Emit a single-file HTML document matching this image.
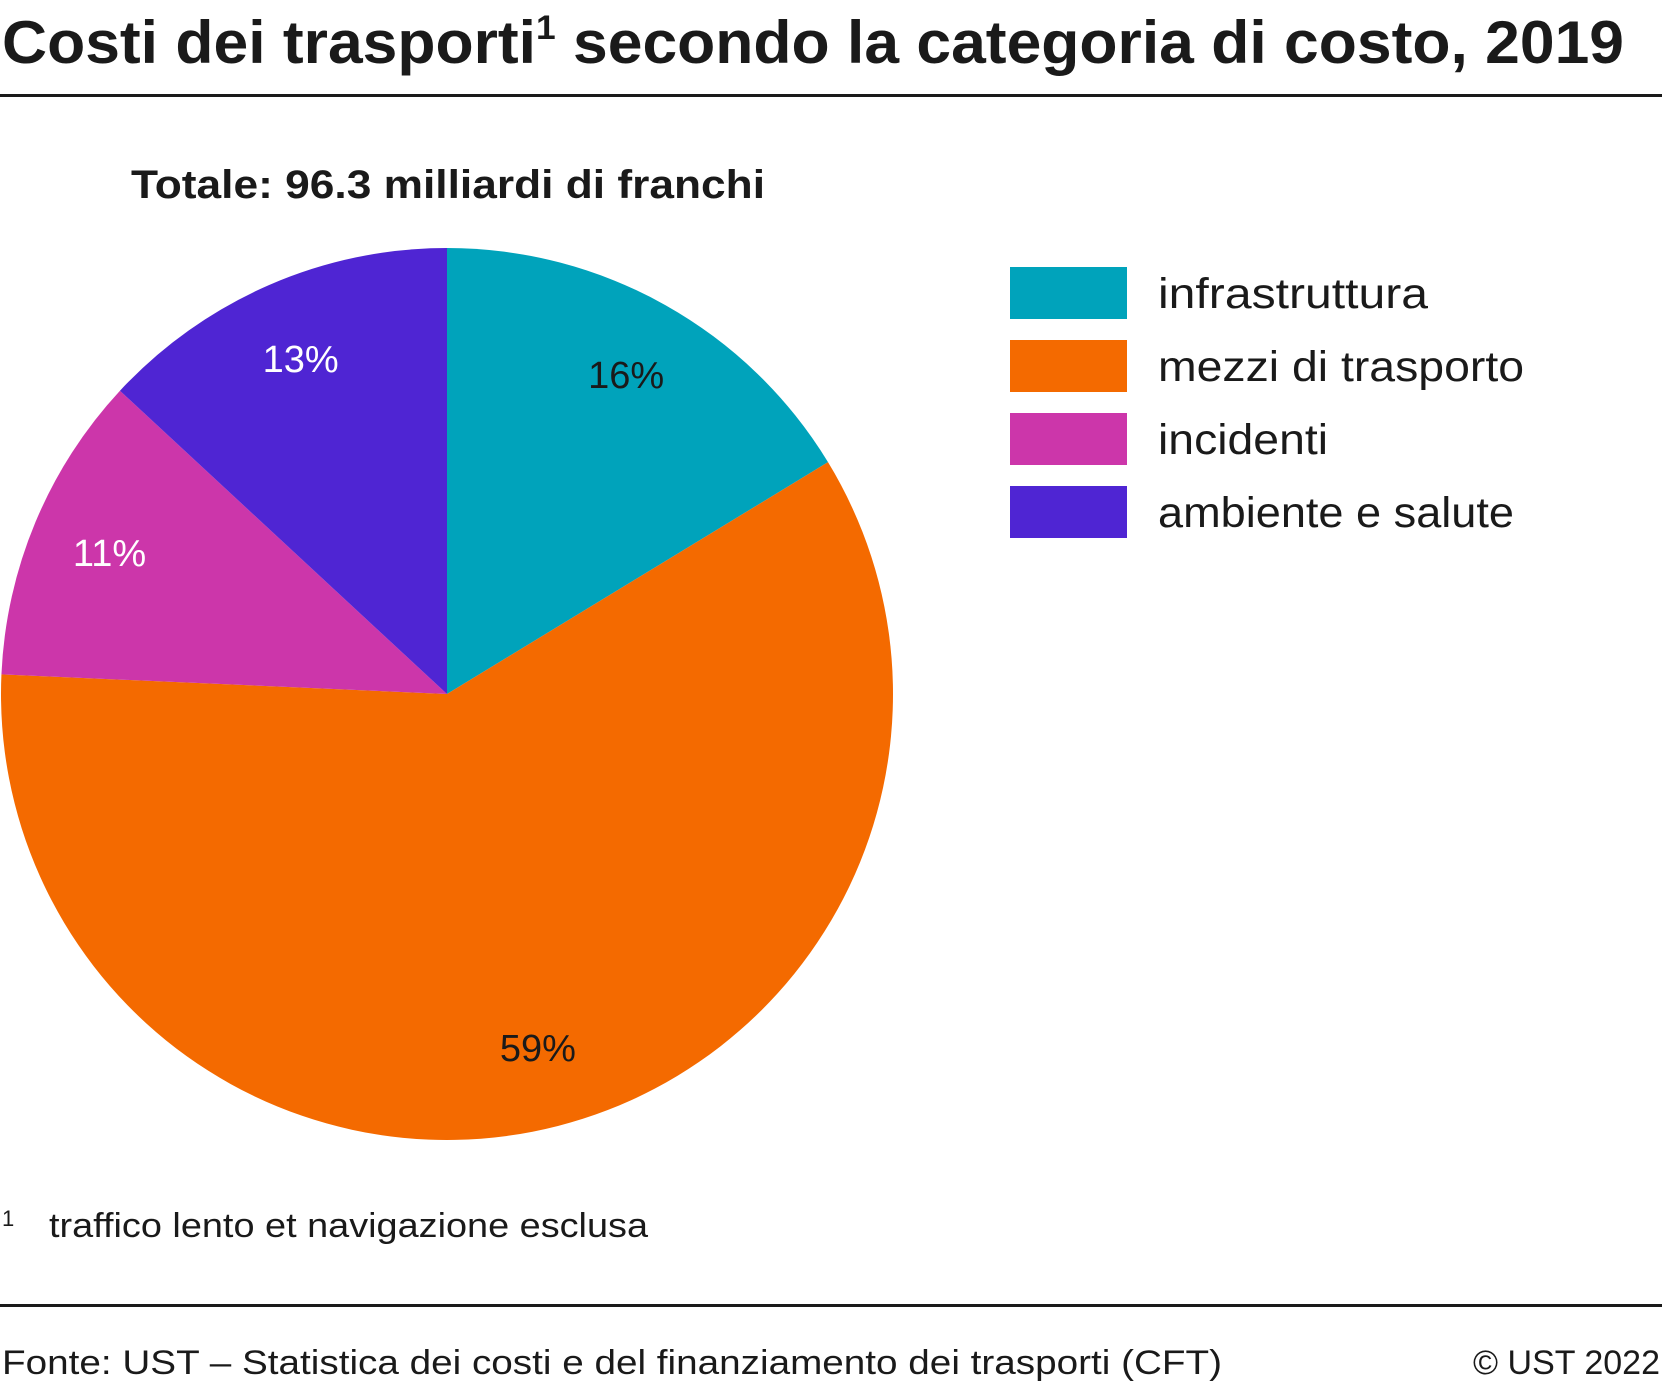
<!DOCTYPE html>
<html><head><meta charset="utf-8"><style>
body{margin:0;background:#fff;width:1662px;height:1385px;overflow:hidden}
svg{display:block;font-family:"Liberation Sans",sans-serif}
</style></head><body>
<svg width="1662" height="1385" viewBox="0 0 1662 1385">
<text x="2" y="63" font-size="60" font-weight="bold" fill="#1a1a1a" textLength="1622" lengthAdjust="spacingAndGlyphs">Costi dei trasporti<tspan font-size="34" dy="-24">1</tspan><tspan dy="24"> secondo la categoria di costo, 2019</tspan></text>
<rect x="0" y="94" width="1662" height="3" fill="#1a1a1a"/>
<text x="131" y="198" font-size="40" font-weight="bold" fill="#1a1a1a" textLength="634" lengthAdjust="spacingAndGlyphs">Totale: 96.3 milliardi di franchi</text>
<g id="pie"></g>
<g id="legend"></g>
<text x="2" y="1226" font-size="22" fill="#1a1a1a">1</text>
<text x="49" y="1237" font-size="34" fill="#1a1a1a" textLength="599" lengthAdjust="spacingAndGlyphs">traffico lento et navigazione esclusa</text>
<rect x="0" y="1304" width="1662" height="3" fill="#1a1a1a"/>
<text x="2" y="1374" font-size="34" fill="#1a1a1a" textLength="1220" lengthAdjust="spacingAndGlyphs">Fonte: UST – Statistica dei costi e del finanziamento dei trasporti (CFT)</text>
<text x="1660" y="1374" font-size="34" fill="#1a1a1a" text-anchor="end">© UST 2022</text>
</svg>
<script>
const categories = ["infrastruttura","mezzi di trasporto","incidenti","ambiente e salute"];
const values = [16.3, 59.4, 11.2, 13.1];
const valueLabels = ["16%","59%","11%","13%"];
const colors = ["#00a3bb","#f46a00","#cc36aa","#4f25d3"];
const labelColors = ["#1a1a1a","#1a1a1a","#ffffff","#ffffff"];
const legendWidths = [270, 366, 170, 356];
const NS="http://www.w3.org/2000/svg";
const cx=447, cy=694, r=446;
const total=values.reduce((a,b)=>a+b,0);
const pie=document.getElementById('pie');
function pt(a,rr){return [cx+rr*Math.sin(a), cy-rr*Math.cos(a)];}
let cum=0;
values.forEach((v,i)=>{
  const a0=cum/total*2*Math.PI; cum+=v; const a1=cum/total*2*Math.PI;
  const p0=pt(a0,r), p1=pt(a1,r);
  const path=document.createElementNS(NS,'path');
  path.setAttribute('d',`M${cx},${cy}L${p0[0]},${p0[1]}A${r},${r} 0 ${a1-a0>Math.PI?1:0} 1 ${p1[0]},${p1[1]}Z`);
  path.setAttribute('fill',colors[i]);
  
  
  pie.appendChild(path);
  const m=(a0+a1)/2, lp=pt(m,r*0.82);
  const t=document.createElementNS(NS,'text');
  t.setAttribute('x',lp[0]); t.setAttribute('y',lp[1]+13);
  t.setAttribute('text-anchor','middle'); t.setAttribute('font-size','38');
  t.setAttribute('fill',labelColors[i]);
  t.textContent=valueLabels[i];
  
  
  pie.appendChild(t);
});
const lg=document.getElementById('legend');
categories.forEach((c,i)=>{
  const y=267+i*73;
  const g=document.createElementNS(NS,'g');
  
  
  const s=document.createElementNS(NS,'rect');
  s.setAttribute('x',1010); s.setAttribute('y',y); s.setAttribute('width',117); s.setAttribute('height',52);
  s.setAttribute('fill',colors[i]);
  
  
  const t=document.createElementNS(NS,'text');
  t.setAttribute('x',1158); t.setAttribute('y',y+41); t.setAttribute('font-size','43'); t.setAttribute('fill','#1a1a1a');
  t.setAttribute('textLength',legendWidths[i]); t.setAttribute('lengthAdjust','spacingAndGlyphs');
  t.textContent=c;
  
  
  g.appendChild(s); g.appendChild(t); lg.appendChild(g);
});
</script>
</body></html>
